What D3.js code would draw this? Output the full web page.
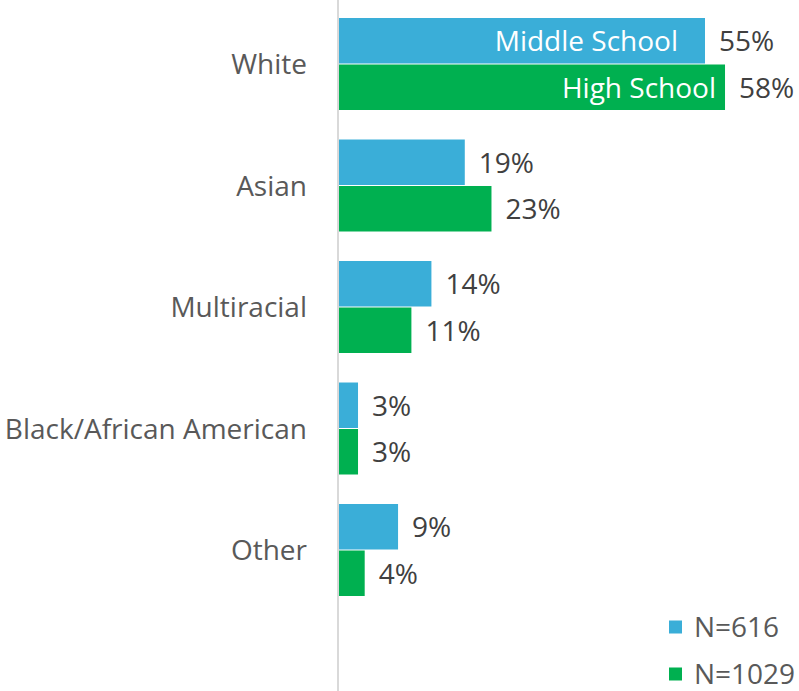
<!DOCTYPE html>
<html><head><meta charset="utf-8">
<script src="https://cdn.jsdelivr.net/npm/d3@7"></script>
<style>body{margin:0;background:#fff;} text{font-family:"Open Sans",sans-serif;}</style>
</head><body><svg id="c" width="799" height="691"></svg>
<script>
const categories = ["White","Asian","Multiracial","Black/African American","Other"];
const seriesNames = ["Middle School","High School"];
const middleSchool = [55,19,14,3,9];
const highSchool = [58,23,11,3,4];
const legendLabels = ["N=616","N=1029"];
const colors = ["#3AAED8","#00B050"];

const svg = d3.select("#c");
const x0 = 338;
const x = d3.scaleLinear().domain([0,55]).range([x0,705]);
const y = d3.scaleBand().domain(categories).range([3.75,611.25]).paddingInner(0.2346).paddingOuter(0.1173);
const ys = d3.scaleBand().domain([0,1]).range([0,y.bandwidth()]);
const data = [middleSchool, highSchool];
const fs = 28;

data.forEach((vals,s)=>{
  svg.selectAll(null).data(vals).enter().append("rect")
    .attr("x",x0).attr("y",(d,i)=>y(categories[i])+ys(s))
    .attr("width",d=>x(d)-x0).attr("height",ys.bandwidth()-1)
    .attr("fill",colors[s]);
  svg.selectAll(null).data(vals).enter().append("text")
    .attr("x",d=>x(d)+14).attr("y",(d,i)=>y(categories[i])+ys(s)+ys.bandwidth()/2)
    .attr("dy","0.35em").attr("font-size",fs).attr("fill","#404040")
    .text(d=>d+"%");
});
// inside series labels on first category
const insideOff = [27,9];
seriesNames.forEach((n,s)=>{
  svg.append("text").attr("x",x(data[s][0])-insideOff[s])
    .attr("y",y(categories[0])+ys(s)+ys.bandwidth()/2).attr("dy","0.35em")
    .attr("text-anchor","end").attr("font-size",fs).attr("fill","#fff").text(n);
});
// category labels
svg.selectAll(null).data(categories).enter().append("text")
  .attr("x",307).attr("y",d=>y(d)+y.bandwidth()/2).attr("dy","0.35em")
  .attr("text-anchor","end").attr("font-size",fs).attr("fill","#595959").text(d=>d);
// axis line
svg.append("line").attr("x1",x0).attr("x2",x0).attr("y1",0).attr("y2",691)
  .attr("stroke","#d9d9d9").attr("stroke-width",2);
// legend
legendLabels.forEach((l,i)=>{
  const ly = 627 + i*47;
  svg.append("rect").attr("x",669).attr("y",ly-6.5).attr("width",13).attr("height",13).attr("fill",colors[i]);
  svg.append("text").attr("x",694).attr("y",ly).attr("dy","0.35em").attr("font-size",fs).attr("fill","#595959").text(l);
});
</script></body></html>
